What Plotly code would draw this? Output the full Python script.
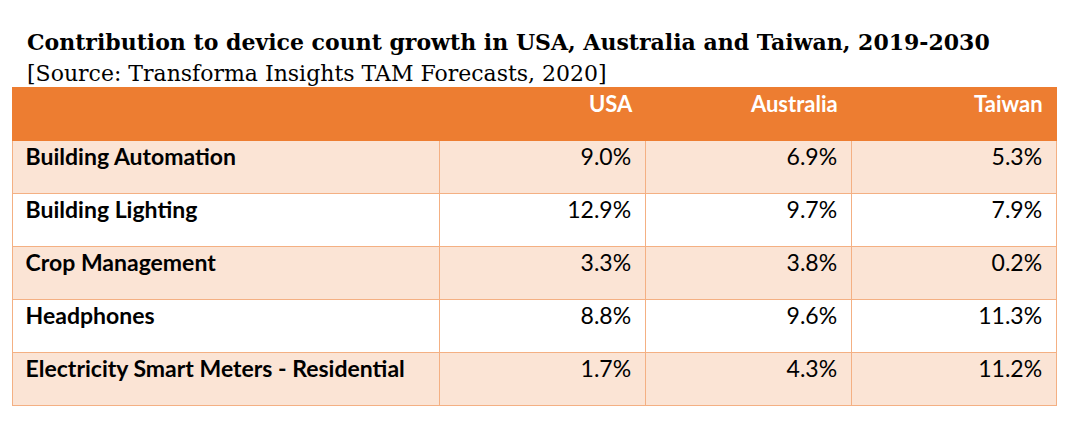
import plotly.graph_objects as go

title = "Contribution to device count growth in USA, Australia and Taiwan, 2019-2030"
subtitle = "[Source: Transforma Insights TAM Forecasts, 2020]"
columns = ["", "USA", "Australia", "Taiwan"]
categories = ["Building Automation", "Building Lighting", "Crop Management",
              "Headphones", "Electricity Smart Meters - Residential"]
usa = [9.0, 12.9, 3.3, 8.8, 1.7]
australia = [6.9, 9.7, 3.8, 9.6, 4.3]
taiwan = [5.3, 7.9, 0.2, 11.3, 11.2]

W, H = 1069, 435
OFF = 8  # page body margin
ML, MT = 12 - OFF, 87 - OFF
PW = 1044
MR = W - ML - PW
MB = 30
ROW_H = 53
HEADER = "#ED7D31"
ODD = "#FBE4D5"
EVEN = "#FFFFFF"
LINE = "#F4B083"
FONT = "Lato, 'Open Sans', sans-serif"
NB = "\u00a0"

fills = [ODD if i % 2 == 0 else EVEN for i in range(len(categories))]

def fmt(vals):
    return [f"{v:.1f}%{NB}" for v in vals]

fig = go.Figure(go.Table(
    columnwidth=[427, 206, 206, 205],
    header=dict(
        values=[f"{c}{NB}" for c in columns],
        fill_color=HEADER,
        line=dict(color=HEADER, width=1),
        align=["left", "right", "right", "right"],
        font=dict(family=FONT, size=22, color="white", weight="bold"),
        height=ROW_H,
    ),
    cells=dict(
        values=[[f"{NB}{c}" for c in categories], fmt(usa), fmt(australia), fmt(taiwan)],
        fill_color=[fills] * 4,
        line=dict(color=LINE, width=1),
        align=["left", "right", "right", "right"],
        font=dict(family=FONT, size=23, color="black",
                  weight=["bold", "normal", "normal", "normal"]),
        height=ROW_H,
    ),
    domain=dict(x=[0, 1], y=[0, 1]),
))

ph = H - MT - MB
fig.add_annotation(text=f"<b>{title}</b>", xref="paper", yref="paper",
                   x=(25 - 12) / PW, y=1 + (87 - 42) / ph, xanchor="left", yanchor="middle",
                   showarrow=False, font=dict(family="DejaVu Serif", size=22, color="black"))
fig.add_annotation(text=subtitle, xref="paper", yref="paper",
                   x=(25 - 12) / PW, y=1 + (87 - 73) / ph, xanchor="left", yanchor="middle",
                   showarrow=False, font=dict(family="DejaVu Serif", size=22, color="black"))

fig.update_layout(width=W, height=H, margin=dict(l=ML, r=MR, t=MT, b=MB),
                  paper_bgcolor="white", plot_bgcolor="white")
fig.write_html("out.html")
